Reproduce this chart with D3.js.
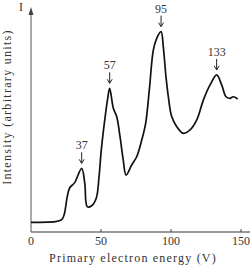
<!DOCTYPE html>
<html>
<head>
<meta charset="utf-8">
<script src="https://cdn.jsdelivr.net/npm/d3@7"></script>
<style>
  html, body { margin: 0; padding: 0; background: #fff; }
  svg { display: block; }
</style>
</head>
<body>
<svg id="chart" width="251" height="266"></svg>
<script>
// Primary electron energy (V)
const energy = [0, 21.6, 23.6, 25.9, 27.6, 31.2, 36.2, 38.4, 40.2, 43.1, 46.6, 48.6, 50.2,
  53.6, 54.8, 56.2, 58.8, 61.2, 63.6, 65.9, 67.9, 71.9, 75.5, 79.1, 81.9, 84.5, 87.4, 89.8,
  92.9, 94.5, 96.4, 98.1, 100.5, 104.1, 108.8, 113.6, 118.4, 123.1, 127.9, 132.6, 136.2,
  139.3, 142.1, 144.5, 147.6];
// Intensity (arbitrary units)
const intensity = [3.9, 4.9, 7.2, 15.4, 19.3, 21.7, 28.1, 21.5, 10.9, 11.2, 14.7, 24.3, 36.3,
  54.3, 59.5, 64.0, 55.0, 51.3, 42.3, 31.8, 25.1, 29.6, 33.3, 40.8, 48.3, 63.2, 81.2, 86.4,
  89.4, 82.6, 69.2, 60.2, 51.3, 46.8, 43.8, 45.3, 49.8, 58.7, 65.5, 70.0, 65.5,
  60.2, 59.5, 60.2, 59.2];
// Peak annotations
const peakLabels = ["37", "57", "95", "133"];
const peakEnergy = [36.2, 56.2, 92.9, 132.6];
const peakIntensity = [28.1, 64.0, 89.4, 70.0];
// Axis ticks
const xTicks = [0, 50, 100, 150];

const svg = d3.select("#chart");
const x = d3.scaleLinear().domain([0, 150]).range([31, 241]);
const y = d3.scaleLinear().domain([0, 100]).range([231, 8]);
const axisY = 232;
const FONT = '"Liberation Serif"';

function txt(sel, size, spacing) {
  return sel.attr("font-family", "Liberation Serif")
    .style("font-family", FONT)
    .style("font-size", size + "px")
    .style("letter-spacing", (spacing || 0) + "px")
    .attr("fill", "#333");
}

// Axes lines
svg.append("line").attr("x1", x(0)).attr("x2", 250).attr("y1", axisY).attr("y2", axisY)
  .attr("stroke", "#333").attr("stroke-width", 1.2);
svg.append("line").attr("x1", x(0)).attr("x2", x(0)).attr("y1", axisY).attr("y2", 10)
  .attr("stroke", "#555").attr("stroke-width", 1);
// arrowhead on y axis
svg.append("path")
  .attr("d", `M${x(0)-2.5},${15} L${x(0)},${7} L${x(0)+2.5},${15} Z`)
  .attr("fill", "#444");

// x ticks
svg.selectAll(".xt").data(xTicks.slice(1)).join("line")
  .attr("x1", d => x(d)).attr("x2", d => x(d))
  .attr("y1", axisY).attr("y2", axisY - 3)
  .attr("stroke", "#444").attr("stroke-width", 1);
txt(svg.selectAll(".xl").data(xTicks).join("text")
  .attr("x", d => x(d)).attr("y", 245)
  .attr("text-anchor", "middle"), 12)
  .text(d => d);

// Axis labels
txt(svg.append("text").attr("x", 133).attr("y", 262)
  .attr("text-anchor", "middle"), 12, 1.2)
  .text("Primary electron energy (V)");
txt(svg.append("text")
  .attr("transform", "translate(11,107) rotate(-90)")
  .attr("text-anchor", "middle"), 12, 1.3)
  .text("Intensity (arbitrary units)");
txt(svg.append("text").attr("x", 21).attr("y", 11)
  .attr("text-anchor", "middle"), 12)
  .text("I");

// Curve
const pts = energy.map((e, i) => [e, intensity[i]]);
const line = d3.line().x(d => x(d[0])).y(d => y(d[1])).curve(d3.curveCatmullRom.alpha(0.5));
svg.append("path").datum(pts)
  .attr("d", line)
  .attr("fill", "none").attr("stroke", "#111").attr("stroke-width", 1.7)
  .attr("stroke-linejoin", "round");

// Peak annotations
peakLabels.forEach((lab, i) => {
  const px = x(peakEnergy[i]);
  const py = y(peakIntensity[i]);
  const tip = py - 5;
  const tail = tip - 11;
  svg.append("line").attr("x1", px).attr("x2", px).attr("y1", tail).attr("y2", tip)
    .attr("stroke", "#222").attr("stroke-width", 1);
  svg.append("path")
    .attr("d", `M${px-2.5},${tip-4} L${px},${tip} L${px+2.5},${tip-4}`)
    .attr("fill", "none").attr("stroke", "#222").attr("stroke-width", 1);
  txt(svg.append("text").attr("x", px).attr("y", tail - 3)
    .attr("text-anchor", "middle"), 12)
    .text(lab);
});
</script>
</body>
</html>
